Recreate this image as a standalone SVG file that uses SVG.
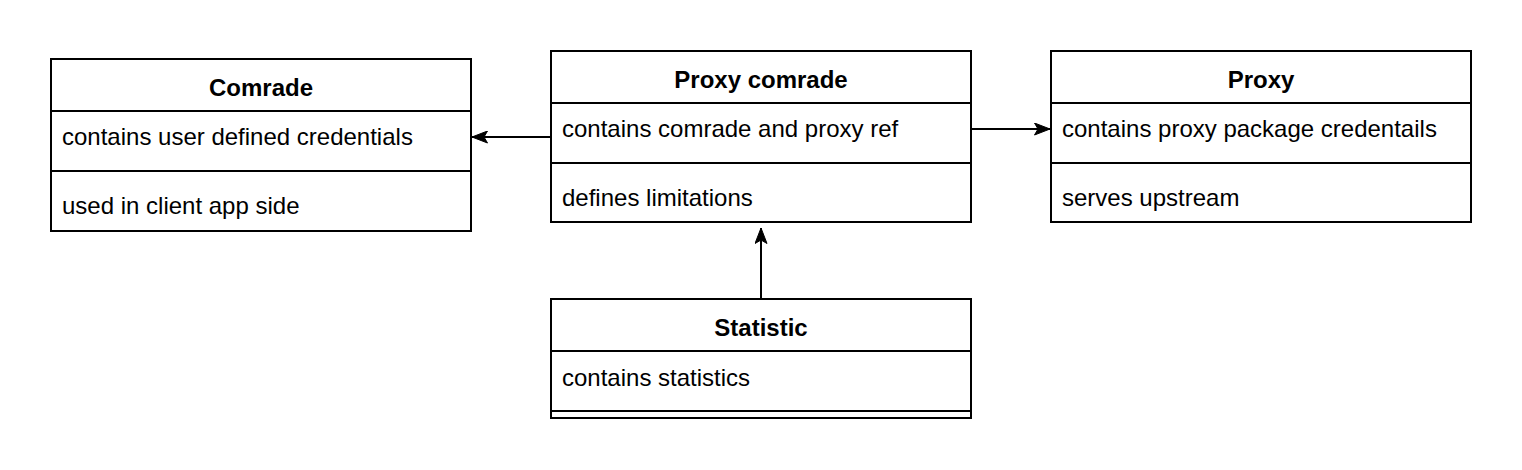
<svg xmlns="http://www.w3.org/2000/svg" width="1522" height="470" viewBox="0 0 1522 470">
<style>
.box{fill:#ffffff;stroke:#000000;stroke-width:2}
.ln{stroke:#000000;stroke-width:2;fill:none}
.t{font-family:"Liberation Sans",Arial,sans-serif;font-size:24px;fill:#000000}
.h{font-family:"Liberation Sans",Arial,sans-serif;font-size:24px;font-weight:bold;fill:#000000;text-anchor:middle}
.c{stroke:#000000;stroke-width:2;fill:none}
</style>
<defs>
<marker id="arr" markerWidth="17" markerHeight="13" viewBox="0 0 17 13" refX="16" refY="6.5" orient="auto" markerUnits="userSpaceOnUse">
<path d="M0.5,0.5 L16,6.5 L0.5,12.5 L4,6.5 Z" fill="#000000" stroke="#000000" stroke-width="1"/>
</marker>
</defs>
<rect width="1522" height="470" fill="#ffffff"/>
<g id="connectors">
<path class="c" d="M551,137 L472,137" marker-end="url(#arr)"/>
<path class="c" d="M971,129 L1050,129" marker-end="url(#arr)"/>
<path class="c" d="M761,299 L761,228" marker-end="url(#arr)"/>
</g>
<g id="comrade">
<rect class="box" x="51" y="59" width="420" height="172"/>
<line class="ln" x1="51" y1="111" x2="471" y2="111"/>
<line class="ln" x1="51" y1="171" x2="471" y2="171"/>
<text class="h" x="261" y="96">Comrade</text>
<text class="t" x="62" y="145">contains user defined credentials</text>
<text class="t" x="62" y="214">used in client app side</text>
</g>
<g id="proxy-comrade">
<rect class="box" x="551" y="51" width="420" height="171"/>
<line class="ln" x1="551" y1="103" x2="971" y2="103"/>
<line class="ln" x1="551" y1="163" x2="971" y2="163"/>
<text class="h" x="761" y="88">Proxy comrade</text>
<text class="t" x="562" y="137">contains comrade and proxy ref</text>
<text class="t" x="562" y="206">defines limitations</text>
</g>
<g id="proxy">
<rect class="box" x="1051" y="51" width="420" height="171"/>
<line class="ln" x1="1051" y1="103" x2="1471" y2="103"/>
<line class="ln" x1="1051" y1="163" x2="1471" y2="163"/>
<text class="h" x="1261" y="88">Proxy</text>
<text class="t" x="1062" y="137">contains proxy package credentails</text>
<text class="t" x="1062" y="206">serves upstream</text>
</g>
<g id="statistic">
<rect class="box" x="551" y="299" width="420" height="119"/>
<line class="ln" x1="551" y1="351" x2="971" y2="351"/>
<line class="ln" x1="551" y1="411" x2="971" y2="411"/>
<text class="h" x="761" y="336">Statistic</text>
<text class="t" x="562" y="386">contains statistics</text>
</g>
</svg>
